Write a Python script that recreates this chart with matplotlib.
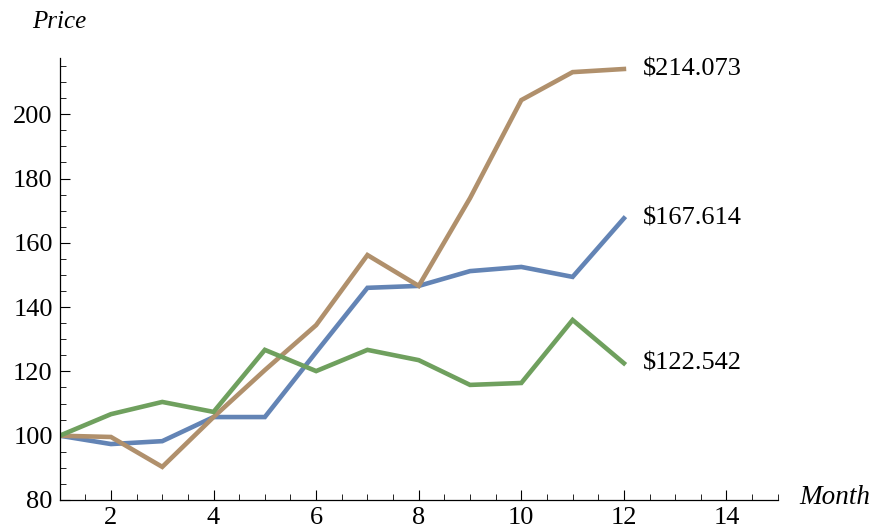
import matplotlib
matplotlib.use("Agg")
import matplotlib.pyplot as plt
from matplotlib.ticker import MultipleLocator

# monthly prices for three stocks
months = list(range(1, 13))
blue_prices = [100, 97.4, 98.3, 105.8, 105.8, 126, 146, 146.6, 151.2, 152.5, 149.4, 167.614]
tan_prices = [100, 99.6, 90.3, 105.8, 120.4, 134.4, 156.2, 146.6, 173.9, 204.4, 213.1, 214.073]
green_prices = [100, 106.7, 110.5, 107.4, 126.7, 120.1, 126.7, 123.5, 115.8, 116.4, 136, 122.542]
end_labels = ["$167.614", "$214.073", "$122.542"]

plt.rcParams['font.family'] = ['Liberation Serif', 'DejaVu Serif']

fig = plt.figure(figsize=(8.75, 5.31), dpi=100)
ax = fig.add_axes([0.0682, 0.0584, 0.8207, 0.8324])

series = [blue_prices, tan_prices, green_prices]
colors = ["#6384b5", "#b0906c", "#6fa05e"]
for prices, color, label in zip(series, colors, end_labels):
    ax.plot(months, prices, color=color, lw=3.3, solid_joinstyle="miter")
    ax.text(months[-1] + 0.37, prices[-1], label, fontsize=19, va="center", ha="left")

ax.set_xlim(1, 15)
ax.set_ylim(80, 217.5)
ax.xaxis.set_minor_locator(MultipleLocator(0.5))
ax.yaxis.set_minor_locator(MultipleLocator(5))
ax.set_xticks([2, 4, 6, 8, 10, 12, 14])
ax.set_yticks([80, 100, 120, 140, 160, 180, 200])

ax.tick_params(which="major", direction="in", length=7, width=0.8, labelsize=19)
ax.tick_params(which="minor", direction="in", length=4, width=0.6)
ax.tick_params(axis="x", pad=5)
ax.tick_params(axis="y", pad=5)

for side in ["top", "right"]:
    ax.spines[side].set_visible(False)
for side in ["left", "bottom"]:
    ax.spines[side].set_linewidth(0.9)

fig.text(0.037, 0.958, "Price", fontsize=18, style="italic", va="center", ha="left")
fig.text(0.913, 0.063, "Month", fontsize=19.5, style="italic", va="center", ha="left")

fig.savefig("out.png", dpi=100)
